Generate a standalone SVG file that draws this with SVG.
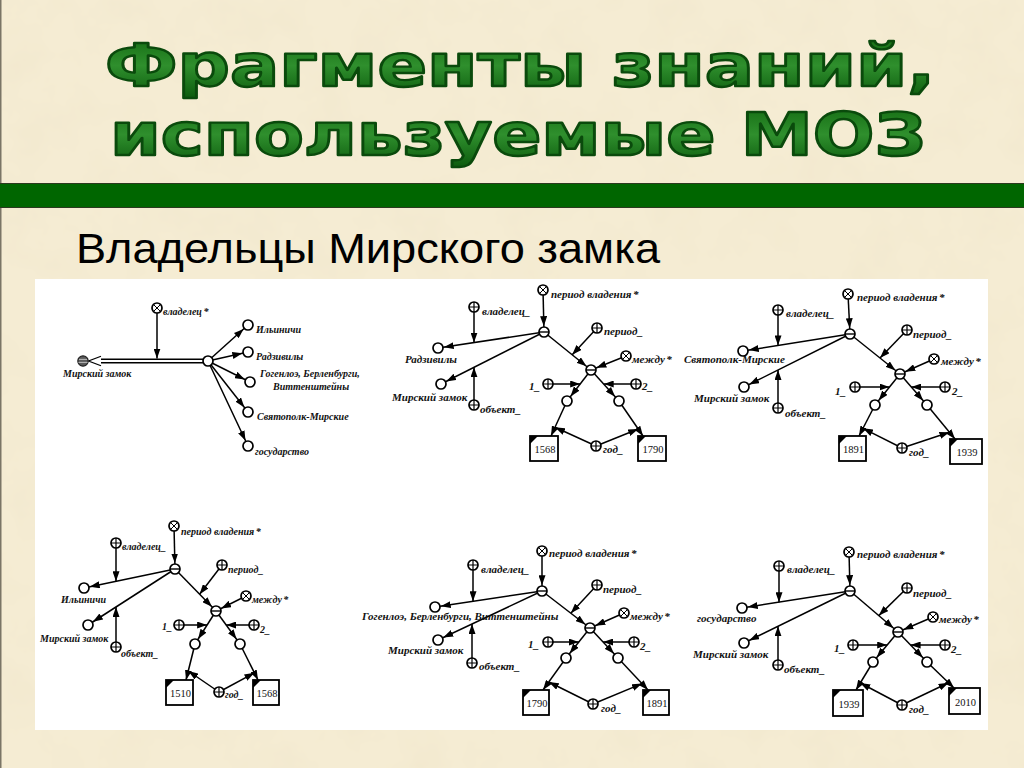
<svg xmlns="http://www.w3.org/2000/svg" width="1024" height="768" viewBox="0 0 1024 768">
<defs>
<style>
.t{font-family:"Liberation Serif","DejaVu Serif",serif;font-style:italic;font-weight:bold;fill:#111}
.s10{font-size:10px}
.s11{font-size:11px}
.num{font-family:"Liberation Serif","DejaVu Serif",serif;font-size:10.5px;fill:#111;text-anchor:middle}
.e line{stroke:#000;stroke-width:1.5;fill:none}
.a{marker-end:url(#ah)}
.ac{marker-end:url(#ahc)}
.n{fill:#fff;stroke:#000;stroke-width:1.7}
.sy{stroke:#000;fill:none}
.box{fill:#fff;stroke:#000;stroke-width:1.8}
.title{font-family:"DejaVu Sans","Liberation Sans",sans-serif;font-weight:bold;font-size:59px;fill:url(#tg);stroke:#0a4a0c;stroke-width:2.4;stroke-linejoin:round}
</style>
<linearGradient id="tg" x1="0" y1="0" x2="0" y2="1">
<stop offset="0" stop-color="#10660f"/>
<stop offset="0.5" stop-color="#2f8f2d"/>
<stop offset="1" stop-color="#0a580c"/>
</linearGradient>
<filter id="paper" x="0" y="0" width="100%" height="100%">
<feTurbulence type="fractalNoise" baseFrequency="0.02" numOctaves="4" seed="3"/>
<feColorMatrix type="matrix" values="0 0 0 0 0.80  0 0 0 0 0.72  0 0 0 0 0.52  0 0 0 0.4 -0.17"/>
</filter>
<marker id="ah" markerUnits="userSpaceOnUse" markerWidth="10" markerHeight="7" refX="10" refY="3.5" orient="auto"><path d="M0,0L10,3.5L0,7z" fill="#000"/></marker>
<marker id="ahc" markerUnits="userSpaceOnUse" markerWidth="10" markerHeight="7" refX="15.8" refY="3.5" orient="auto"><path d="M0,0L10,3.5L0,7z" fill="#000"/></marker>
<g id="sc"><circle class="n" r="5"/></g>
<g id="sp"><circle class="n" r="5"/><path class="sy" stroke-width="1.2" d="M-5,0H5M0,-5V5"/></g>
<g id="sx"><circle class="n" r="5"/><path class="sy" stroke-width="1" d="M-3.5,-3.5L3.5,3.5M-3.5,3.5L3.5,-3.5"/></g>
<g id="sm"><circle class="n" r="5"/><path class="sy" stroke-width="1.4" d="M-5,0H5"/></g>
<g id="ss"><circle r="5.2" fill="#5a5a5a" stroke="#222" stroke-width="1.2"/><path d="M-4,-1.6H4M-4.5,1.4H4.5" stroke="#bbb" stroke-width="1"/></g>
</defs>

<rect x="0" y="0" width="1024" height="768" fill="#f5ecd3"/>
<rect x="0" y="0" width="1024" height="768" filter="url(#paper)"/>
<rect x="0" y="0" width="1.5" height="768" fill="#7a7566"/>

<g id="title">
<text class="title" x="105" y="86" textLength="830" lengthAdjust="spacingAndGlyphs">Фрагменты знаний,</text>
<text class="title" x="110" y="155" textLength="816" lengthAdjust="spacingAndGlyphs">используемые МОЗ</text>
</g>
<rect id="bar" x="-1" y="183.5" width="1026" height="24" fill="#006600" stroke="#2b3a1f" stroke-width="1"/>
<text id="subtitle" x="76" y="263" font-family="Liberation Sans, Arial, sans-serif" font-size="42" fill="#000" textLength="584" lengthAdjust="spacingAndGlyphs">Владельцы Мирского замка</text>

<rect id="panel" x="35" y="279" width="953" height="451" fill="#ffffff"/>

<!-- Diagram 1 -->
<g id="d1">
<g id="d1-edges" class="e">
<line class="a" x1="157" y1="308" x2="157" y2="358.5"/>
<line x1="97" y1="359.2" x2="204" y2="359.2"/>
<line x1="97" y1="362.8" x2="204" y2="362.8"/>
<path d="M101,356.3L88.5,361L101,365.7" fill="#fff" stroke="#000" stroke-width="1.2"/>
<line class="ac" x1="208" y1="361" x2="248" y2="325"/>
<line class="ac" x1="208" y1="361" x2="248" y2="352"/>
<line class="ac" x1="208" y1="361" x2="250" y2="382"/>
<line class="ac" x1="208" y1="361" x2="248" y2="412"/>
<line class="ac" x1="208" y1="361" x2="248" y2="446"/>
</g>
<g id="d1-owner"><use href="#sx" x="157" y="308"/><text class="t s10" x="163" y="315">владелец<tspan dx="1.5">*</tspan></text></g>
<g id="d1-hub"><use href="#sc" x="208" y="361"/></g>
<g id="d1-castle"><use href="#ss" x="83" y="361"/><text class="t s10" x="63" y="377">Мирский замок</text></g>
<g id="d1-ilinichi"><use href="#sc" x="248" y="325"/><text class="t s10" x="256" y="333">Ильиничи</text></g>
<g id="d1-radziwill"><use href="#sc" x="248" y="352"/><text class="t s10" x="256" y="360">Радзивилы</text></g>
<g id="d1-hohenlohe"><use href="#sc" x="250" y="382"/><text class="t s10" x="260" y="377">Гогенлоэ, Берленбурги,<tspan x="273" y="390">Виттенштейны</tspan></text></g>
<g id="d1-svyatopolk"><use href="#sc" x="248" y="412"/><text class="t s10" x="257" y="420">Святополк-Мирские</text></g>
<g id="d1-state"><use href="#sc" x="248" y="446"/><text class="t s10" x="255" y="455">государство</text></g>
</g>

<!-- Diagram 2 -->
<g id="d2">
<g id="d2-edges" class="e">
<line class="ac" x1="543" y1="290" x2="544" y2="332"/>
<line class="ac" x1="544" y1="332" x2="438" y2="348"/>
<line class="a" x1="474" y1="307" x2="474" y2="342.6"/>
<line class="ac" x1="544" y1="332" x2="441" y2="384"/>
<line class="a" x1="474" y1="405" x2="474" y2="367.3"/>
<line class="ac" x1="544" y1="332" x2="591" y2="370"/>
<line class="a" x1="597" y1="328" x2="572.2" y2="354.8"/>
<line class="ac" x1="626" y1="356" x2="591" y2="370"/>
<line class="ac" x1="591" y1="370" x2="567" y2="401"/>
<line class="a" x1="548" y1="384" x2="580.2" y2="384"/>
<line class="ac" x1="591" y1="370" x2="619" y2="401"/>
<line class="a" x1="636" y1="384" x2="603.7" y2="384"/>
<line class="a" x1="567" y1="401" x2="551" y2="436"/>
<line class="a" x1="596" y1="446" x2="555" y2="427.3"/>
<line class="a" x1="619" y1="401" x2="643" y2="436"/>
<line class="a" x1="596" y1="446" x2="638.2" y2="429"/>
</g>
<g id="d2-pv"><use href="#sx" x="543" y="290"/><text class="t s11" x="551" y="298">период владения<tspan dx="1.5">*</tspan></text></g>
<g id="d2-h1"><use href="#sm" x="544" y="332"/></g>
<g id="d2-ow"><use href="#sp" x="474" y="307"/><text class="t s11" x="482" y="315">владелец_</text></g>
<g id="d2-a"><use href="#sc" x="438" y="348"/><text class="t s11" x="405" y="363">Радзивилы</text></g>
<g id="d2-m"><use href="#sc" x="441" y="384"/><text class="t s11" x="392" y="401">Мирский замок</text></g>
<g id="d2-ob"><use href="#sp" x="474" y="405"/><text class="t s11" x="480" y="413">объект_</text></g>
<g id="d2-pr"><use href="#sp" x="597" y="328"/><text class="t s11" x="604" y="335">период_</text></g>
<g id="d2-h2"><use href="#sm" x="591" y="370"/></g>
<g id="d2-mz"><use href="#sx" x="626" y="356"/><text class="t s11" x="632" y="363">между<tspan dx="1.5">*</tspan></text></g>
<g id="d2-o1"><use href="#sp" x="548" y="384"/><text class="t s11" x="529" y="390">1_</text></g>
<g id="d2-o2"><use href="#sp" x="636" y="384"/><text class="t s11" x="642" y="390">2_</text></g>
<g id="d2-l"><use href="#sc" x="567" y="401"/></g>
<g id="d2-r"><use href="#sc" x="619" y="401"/></g>
<g id="d2-bl"><rect class="box" x="530" y="436" width="28" height="25"/><path d="M530,436h8L530,444z"/><text class="num" x="545" y="453">1568</text></g>
<g id="d2-br"><rect class="box" x="638" y="436" width="28" height="25"/><path d="M638,436h8L638,444z"/><text class="num" x="653" y="453">1790</text></g>
<g id="d2-g"><use href="#sp" x="596" y="446"/><text class="t s11" x="603" y="453">год_</text></g>
</g>

<!-- Diagram 3 -->
<g id="d3">
<g id="d3-edges" class="e">
<line class="ac" x1="848" y1="294" x2="850" y2="334"/>
<line class="ac" x1="850" y1="334" x2="743" y2="351"/>
<line class="a" x1="778" y1="310" x2="778" y2="345.4"/>
<line class="ac" x1="850" y1="334" x2="744" y2="387"/>
<line class="a" x1="778" y1="408" x2="778" y2="370"/>
<line class="ac" x1="850" y1="334" x2="900" y2="374"/>
<line class="a" x1="907" y1="330" x2="880" y2="358"/>
<line class="ac" x1="934" y1="359" x2="900" y2="374"/>
<line class="ac" x1="900" y1="374" x2="875" y2="405"/>
<line class="a" x1="855" y1="387" x2="889.5" y2="387"/>
<line class="ac" x1="900" y1="374" x2="927" y2="405"/>
<line class="a" x1="945" y1="387" x2="911.3" y2="387"/>
<line class="a" x1="875" y1="405" x2="859" y2="436"/>
<line class="a" x1="902" y1="448" x2="863" y2="428.3"/>
<line class="a" x1="927" y1="405" x2="955" y2="439"/>
<line class="a" x1="902" y1="448" x2="949.4" y2="432.2"/>
</g>
<g id="d3-pv"><use href="#sx" x="848" y="294"/><text class="t s11" x="857" y="301">период владения<tspan dx="1.5">*</tspan></text></g>
<g id="d3-h1"><use href="#sm" x="850" y="334"/></g>
<g id="d3-ow"><use href="#sp" x="778" y="310"/><text class="t s11" x="786" y="317">владелец_</text></g>
<g id="d3-a"><use href="#sc" x="743" y="351"/><text class="t s11" x="684" y="363">Святополк-Мирские</text></g>
<g id="d3-m"><use href="#sc" x="744" y="387"/><text class="t s11" x="694" y="402">Мирский замок</text></g>
<g id="d3-ob"><use href="#sp" x="778" y="408"/><text class="t s11" x="785" y="417">объект_</text></g>
<g id="d3-pr"><use href="#sp" x="907" y="330"/><text class="t s11" x="913" y="338">период_</text></g>
<g id="d3-h2"><use href="#sm" x="900" y="374"/></g>
<g id="d3-mz"><use href="#sx" x="934" y="359"/><text class="t s11" x="941" y="365">между<tspan dx="1.5">*</tspan></text></g>
<g id="d3-o1"><use href="#sp" x="855" y="387"/><text class="t s11" x="835" y="395">1_</text></g>
<g id="d3-o2"><use href="#sp" x="945" y="387"/><text class="t s11" x="952" y="395">2_</text></g>
<g id="d3-l"><use href="#sc" x="875" y="405"/></g>
<g id="d3-r"><use href="#sc" x="927" y="405"/></g>
<g id="d3-bl"><rect class="box" x="839" y="436" width="27" height="25"/><path d="M839,436h8L839,444z"/><text class="num" x="853.5" y="453">1891</text></g>
<g id="d3-br"><rect class="box" x="950" y="439" width="32" height="25"/><path d="M950,439h8L950,447z"/><text class="num" x="967" y="456">1939</text></g>
<g id="d3-g"><use href="#sp" x="902" y="448"/><text class="t s11" x="909" y="456">год_</text></g>
</g>

<!-- Diagram 4 -->
<g id="d4">
<g id="d4-edges" class="e">
<line class="ac" x1="174" y1="526" x2="175" y2="569"/>
<line class="ac" x1="175" y1="569" x2="84" y2="588"/>
<line class="a" x1="116" y1="543" x2="116" y2="581.3"/>
<line class="ac" x1="175" y1="569" x2="88" y2="625"/>
<line class="a" x1="116" y1="647" x2="116" y2="607"/>
<line class="ac" x1="175" y1="569" x2="216" y2="611"/>
<line class="a" x1="222" y1="565" x2="199.6" y2="594.2"/>
<line class="ac" x1="246" y1="596" x2="216" y2="611"/>
<line class="ac" x1="216" y1="611" x2="195" y2="644"/>
<line class="a" x1="179" y1="625" x2="207.1" y2="625"/>
<line class="ac" x1="216" y1="611" x2="240" y2="644"/>
<line class="a" x1="254" y1="625" x2="226.2" y2="625"/>
<line class="a" x1="195" y1="644" x2="186" y2="680"/>
<line class="a" x1="219" y1="692" x2="188.3" y2="671"/>
<line class="a" x1="240" y1="644" x2="258" y2="680"/>
<line class="a" x1="219" y1="692" x2="254.4" y2="672.8"/>
</g>
<g id="d4-pv"><use href="#sx" x="174" y="526"/><text class="t s10" x="181" y="535">период владения<tspan dx="1.5">*</tspan></text></g>
<g id="d4-h1"><use href="#sm" x="175" y="569"/></g>
<g id="d4-ow"><use href="#sp" x="116" y="543"/><text class="t s10" x="122" y="550">владелец_</text></g>
<g id="d4-a"><use href="#sc" x="84" y="588"/><text class="t s10" x="61" y="603">Ильиничи</text></g>
<g id="d4-m"><use href="#sc" x="88" y="625"/><text class="t s10" x="40" y="642">Мирский замок</text></g>
<g id="d4-ob"><use href="#sp" x="116" y="647"/><text class="t s10" x="121" y="657">объект_</text></g>
<g id="d4-pr"><use href="#sp" x="222" y="565"/><text class="t s10" x="228" y="573">период_</text></g>
<g id="d4-h2"><use href="#sm" x="216" y="611"/></g>
<g id="d4-mz"><use href="#sx" x="246" y="596"/><text class="t s10" x="252" y="603">между<tspan dx="1.5">*</tspan></text></g>
<g id="d4-o1"><use href="#sp" x="179" y="625"/><text class="t s10" x="162" y="630">1_</text></g>
<g id="d4-o2"><use href="#sp" x="254" y="625"/><text class="t s10" x="260" y="633">2_</text></g>
<g id="d4-l"><use href="#sc" x="195" y="644"/></g>
<g id="d4-r"><use href="#sc" x="240" y="644"/></g>
<g id="d4-bl"><rect class="box" x="166" y="680" width="27" height="25"/><path d="M166,680h8L166,688z"/><text class="num" x="180.5" y="697">1510</text></g>
<g id="d4-br"><rect class="box" x="253" y="680" width="26" height="25"/><path d="M253,680h8L253,688z"/><text class="num" x="267" y="697">1568</text></g>
<g id="d4-g"><use href="#sp" x="219" y="692"/><text class="t s10" x="225" y="698">год_</text></g>
</g>

<!-- Diagram 5 -->
<g id="d5">
<g id="d5-edges" class="e">
<line class="ac" x1="542" y1="551" x2="542" y2="591"/>
<line class="ac" x1="542" y1="591" x2="435" y2="607"/>
<line class="a" x1="473" y1="565" x2="473" y2="601.3"/>
<line class="ac" x1="542" y1="591" x2="438" y2="640"/>
<line class="a" x1="472" y1="663" x2="472" y2="624"/>
<line class="ac" x1="542" y1="591" x2="590" y2="628"/>
<line class="a" x1="597" y1="585" x2="570.8" y2="613.2"/>
<line class="ac" x1="624" y1="613" x2="590" y2="628"/>
<line class="ac" x1="590" y1="628" x2="566" y2="658"/>
<line class="a" x1="548" y1="642" x2="578.8" y2="642"/>
<line class="ac" x1="590" y1="628" x2="618" y2="658"/>
<line class="a" x1="634" y1="642" x2="603.1" y2="642"/>
<line class="a" x1="566" y1="658" x2="543" y2="690"/>
<line class="a" x1="593" y1="704" x2="548.8" y2="682"/>
<line class="a" x1="618" y1="658" x2="648" y2="690"/>
<line class="a" x1="593" y1="704" x2="642" y2="683.6"/>
</g>
<g id="d5-pv"><use href="#sx" x="542" y="551"/><text class="t s11" x="549" y="557">период владения<tspan dx="1.5">*</tspan></text></g>
<g id="d5-h1"><use href="#sm" x="542" y="591"/></g>
<g id="d5-ow"><use href="#sp" x="473" y="565"/><text class="t s11" x="481" y="573">владелец_</text></g>
<g id="d5-a"><use href="#sc" x="435" y="607"/><text class="t s11" x="362" y="620">Гогенлоэ, Берленбурги, Виттенштейны</text></g>
<g id="d5-m"><use href="#sc" x="438" y="640"/><text class="t s11" x="388" y="654">Мирский замок</text></g>
<g id="d5-ob"><use href="#sp" x="472" y="663"/><text class="t s11" x="479" y="670">объект_</text></g>
<g id="d5-pr"><use href="#sp" x="597" y="585"/><text class="t s11" x="603" y="593">период_</text></g>
<g id="d5-h2"><use href="#sm" x="590" y="628"/></g>
<g id="d5-mz"><use href="#sx" x="624" y="613"/><text class="t s11" x="630" y="620">между<tspan dx="1.5">*</tspan></text></g>
<g id="d5-o1"><use href="#sp" x="548" y="642"/><text class="t s11" x="528" y="648">1_</text></g>
<g id="d5-o2"><use href="#sp" x="634" y="642"/><text class="t s11" x="640" y="650">2_</text></g>
<g id="d5-l"><use href="#sc" x="566" y="658"/></g>
<g id="d5-r"><use href="#sc" x="618" y="658"/></g>
<g id="d5-bl"><rect class="box" x="523" y="690" width="26" height="25"/><path d="M523,690h8L523,698z"/><text class="num" x="537" y="707">1790</text></g>
<g id="d5-br"><rect class="box" x="643" y="690" width="26" height="25"/><path d="M643,690h8L643,698z"/><text class="num" x="657" y="707">1891</text></g>
<g id="d5-g"><use href="#sp" x="593" y="704"/><text class="t s11" x="601" y="712">год_</text></g>
</g>

<!-- Diagram 6 -->
<g id="d6">
<g id="d6-edges" class="e">
<line class="ac" x1="849" y1="552" x2="850" y2="591"/>
<line class="ac" x1="850" y1="591" x2="742" y2="608"/>
<line class="a" x1="779" y1="566" x2="779" y2="602.2"/>
<line class="ac" x1="850" y1="591" x2="744" y2="643"/>
<line class="a" x1="778" y1="665" x2="778" y2="626.3"/>
<line class="ac" x1="850" y1="591" x2="898" y2="632"/>
<line class="a" x1="907" y1="588" x2="878.8" y2="615.6"/>
<line class="ac" x1="933" y1="617" x2="898" y2="632"/>
<line class="ac" x1="898" y1="632" x2="873" y2="662"/>
<line class="a" x1="853" y1="645" x2="887.2" y2="645"/>
<line class="ac" x1="898" y1="632" x2="927" y2="662"/>
<line class="a" x1="945" y1="645" x2="910.6" y2="645"/>
<line class="a" x1="873" y1="662" x2="856" y2="690"/>
<line class="a" x1="902" y1="705" x2="860.3" y2="683"/>
<line class="a" x1="927" y1="662" x2="954" y2="688"/>
<line class="a" x1="902" y1="705" x2="948.6" y2="682.8"/>
</g>
<g id="d6-pv"><use href="#sx" x="849" y="552"/><text class="t s11" x="857" y="558">период владения<tspan dx="1.5">*</tspan></text></g>
<g id="d6-h1"><use href="#sm" x="850" y="591"/></g>
<g id="d6-ow"><use href="#sp" x="779" y="566"/><text class="t s11" x="787" y="573">владелец_</text></g>
<g id="d6-a"><use href="#sc" x="742" y="608"/><text class="t s11" x="697" y="622">государство</text></g>
<g id="d6-m"><use href="#sc" x="744" y="643"/><text class="t s11" x="693" y="658">Мирский замок</text></g>
<g id="d6-ob"><use href="#sp" x="778" y="665"/><text class="t s11" x="784" y="673">объект_</text></g>
<g id="d6-pr"><use href="#sp" x="907" y="588"/><text class="t s11" x="913" y="597">период_</text></g>
<g id="d6-h2"><use href="#sm" x="898" y="632"/></g>
<g id="d6-mz"><use href="#sx" x="933" y="617"/><text class="t s11" x="939" y="623">между<tspan dx="1.5">*</tspan></text></g>
<g id="d6-o1"><use href="#sp" x="853" y="645"/><text class="t s11" x="834" y="652">1_</text></g>
<g id="d6-o2"><use href="#sp" x="945" y="645"/><text class="t s11" x="951" y="653">2_</text></g>
<g id="d6-l"><use href="#sc" x="873" y="662"/></g>
<g id="d6-r"><use href="#sc" x="927" y="662"/></g>
<g id="d6-bl"><rect class="box" x="833" y="690" width="30" height="26"/><path d="M833,690h8L833,698z"/><text class="num" x="849" y="708">1939</text></g>
<g id="d6-br"><rect class="box" x="949" y="688" width="31" height="26"/><path d="M949,688h8L949,696z"/><text class="num" x="965.5" y="706">2010</text></g>
<g id="d6-g"><use href="#sp" x="902" y="705"/><text class="t s11" x="909" y="713">год_</text></g>
</g>
</svg>
